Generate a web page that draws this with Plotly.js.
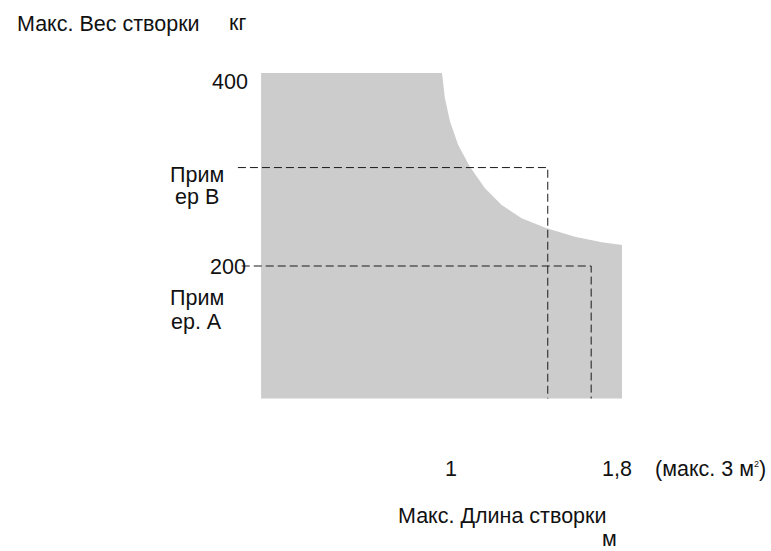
<!DOCTYPE html>
<html>
<head>
<meta charset="utf-8">
<script src="https://cdn.plot.ly/plotly-3.0.1.min.js"></script>
<style>html,body{margin:0;padding:0;background:#fff;}#chart{width:771px;height:551px;}</style>
</head>
<body>
<div id="chart"></div>
<script>
// Boundary curve of allowed zone: max sash length (m) vs max sash weight (kg)
const curveLength = [1.0, 1.013, 1.036, 1.072, 1.124, 1.191, 1.265, 1.354, 1.465, 1.591, 1.710, 1.8];
const curveWeight = [400, 373.8, 349.5, 325.4, 302.9, 280.5, 263.2, 249.4, 239.1, 230.4, 224.6, 221.8];
// Zone limits
const zoneLength = [0.196, 1.8];
const zoneWeight = [62.7, 400];
// Examples
const exampleLines = [['Прим', 'ер B'], ['Прим', 'ер. А']];
const exampleLength = [1.47, 1.663];
const exampleWeight = [302, 200];
const exampleLineStart = [0.093, 0.11];
// Tick labels
const yTickVals = [400, 200];
const yTickText = ['400', '200'];
const xTickVals = [1, 1.8];
const xTickText = ['1', '1,8'];
const xUnitNote = '(макс. 3 м<sup><span style="font-size:9px">2</span></sup>)';
const titleY = 'Макс. Вес створки';
const unitY = 'кг';
const titleX = 'Макс. Длина створки';
const unitX = 'м';

const FONT = 'Liberation Sans, Arial, sans-serif';
const FS = 21.5;
const TXT = '#111111';

// Build filled zone polygon
const polyX = [zoneLength[0], zoneLength[0]].concat(curveLength, [zoneLength[1], zoneLength[0]]);
const polyY = [zoneWeight[0], zoneWeight[1]].concat(curveWeight, [zoneWeight[0], zoneWeight[0]]);

const traces = [{
  x: polyX, y: polyY, type: 'scatter', mode: 'lines', fill: 'toself',
  fillcolor: '#cccccc', line: {width: 0, color: 'rgba(0,0,0,0)'}, hoverinfo: 'skip', showlegend: false
}];

exampleLength.forEach((L, i) => {
  traces.push({
    x: [exampleLineStart[i], L, L],
    y: [exampleWeight[i], exampleWeight[i], zoneWeight[0]],
    type: 'scatter', mode: 'lines',
    line: {color: '#1a1a1a', width: 1, dash: '8px,4px'},
    hoverinfo: 'skip', showlegend: false
  });
});

const ann = [];
const shiftsY = [-9, -1];
const xShiftsY = [-11, -13];
yTickVals.forEach((v, i) => ann.push({
  x: zoneLength[0], y: v, xref: 'x', yref: 'y', text: yTickText[i], showarrow: false,
  xanchor: 'right', yanchor: 'middle', xshift: xShiftsY[i], yshift: shiftsY[i]
}));
const exLabelY = [[294.3, 271.5], [166.8, 142.0]];
exampleLines.forEach((lines, i) => lines.forEach((t, j) => ann.push({
  x: -0.0889, y: exLabelY[i][j], xref: 'x', yref: 'y', text: t, showarrow: false,
  xanchor: 'center', yanchor: 'middle', align: 'center'
})));
const xLabelShift = [9, -5];
xTickVals.forEach((v, i) => ann.push({
  x: v, y: -10.4, xref: 'x', yref: 'y', text: xTickText[i], showarrow: false,
  xanchor: 'center', yanchor: 'middle', xshift: xLabelShift[i]
}));
ann.push({x: 1.8, y: -10.4, xref: 'x', yref: 'y', text: xUnitNote, showarrow: false,
  xanchor: 'left', yanchor: 'middle', xshift: 31});
ann.push({x: 1.8, y: -59.1, xref: 'x', yref: 'y', text: titleX, showarrow: false,
  xanchor: 'right', yanchor: 'middle', xshift: -14});
ann.push({x: 1.8, y: -83, xref: 'x', yref: 'y', text: unitX, showarrow: false,
  xanchor: 'right', yanchor: 'middle', xshift: -4, borderpad: 0});
ann.push({x: 227/771, y: 1 - 23/551, xref: 'paper', yref: 'paper', text: unitY, showarrow: false,
  xanchor: 'left', yanchor: 'middle'});

const layout = {
  width: 771, height: 551,
  margin: {l: 0, r: 0, t: 0, b: 0, pad: 0},
  paper_bgcolor: '#ffffff', plot_bgcolor: '#ffffff',
  font: {family: FONT, size: FS, color: TXT},
  title: {text: titleY, x: 17/771, xanchor: 'left', xref: 'paper', y: 1 - 23/551, yanchor: 'middle', yref: 'container',
    font: {family: FONT, size: FS, color: TXT}},
  xaxis: {range: [-0.9644, 2.4622], visible: false, fixedrange: true},
  yaxis: {range: [-95.34, 475.65], visible: false, fixedrange: true},
  annotations: ann,
  showlegend: false
};

Plotly.newPlot('chart', traces, layout, {staticPlot: true, displayModeBar: false});
</script>
</body>
</html>
